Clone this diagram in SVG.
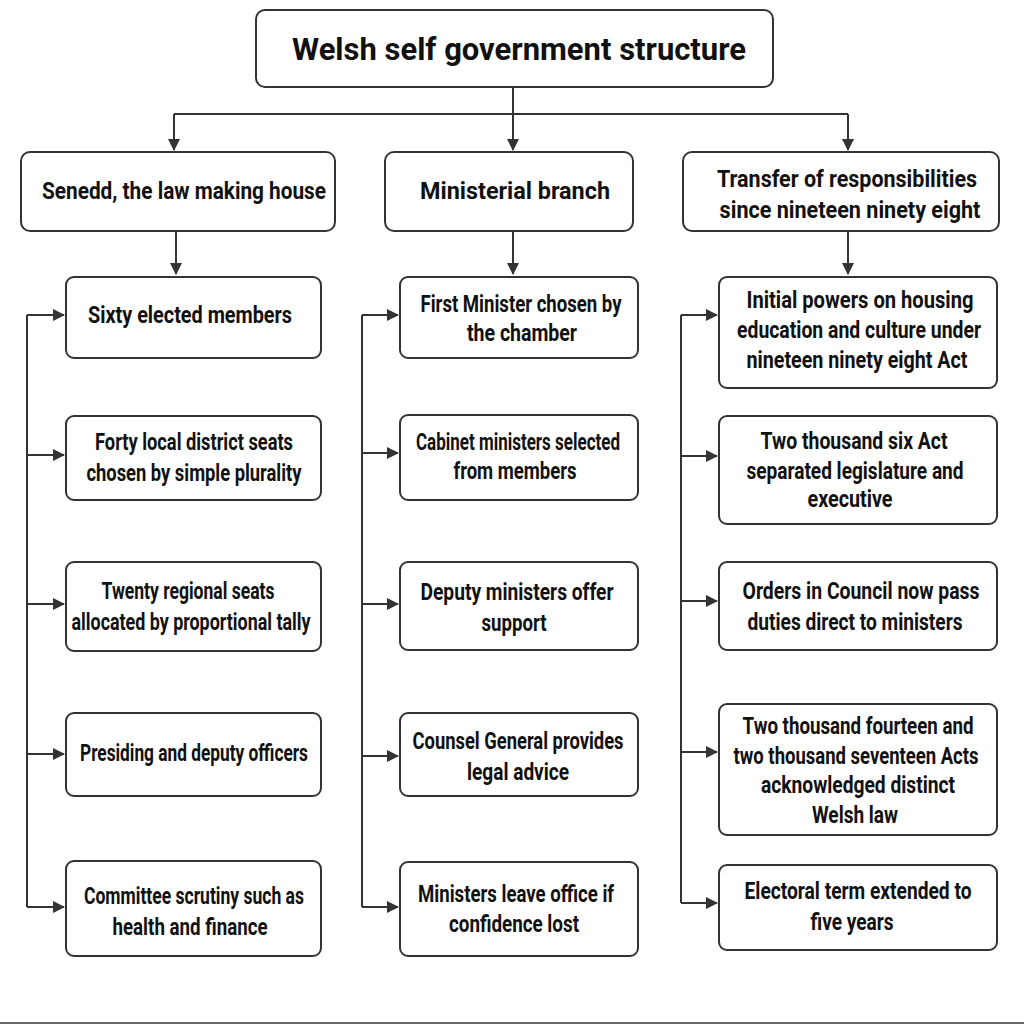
<svg xmlns="http://www.w3.org/2000/svg" width="1024" height="1024" viewBox="0 0 1024 1024">
<defs>
<marker id="ah" viewBox="0 0 12 12" refX="11" refY="6" markerWidth="12" markerHeight="12" markerUnits="userSpaceOnUse" orient="auto">
<path d="M0,0 L12,6 L0,12 Z" fill="#333"/>
</marker>
<style>
.box{fill:#fff;stroke:#333;stroke-width:2}
.t{font-family:Roboto,"Liberation Sans",sans-serif;font-weight:bold;font-size:24px;fill:#111;text-anchor:middle}
.title{font-family:Roboto,"Liberation Sans",sans-serif;font-weight:bold;font-size:31px;fill:#111;text-anchor:middle}
.c{fill:none;stroke:#333;stroke-width:2}
</style>
</defs>
<rect width="1024" height="1024" fill="#fff"/>
<g id="connectors">
<path class="c" d="M513,87 V114"/>
<path class="c" d="M174,114 H848"/>
<path class="c" d="M174,114 V150" marker-end="url(#ah)"/>
<path class="c" d="M513,114 V150" marker-end="url(#ah)"/>
<path class="c" d="M848,114 V150" marker-end="url(#ah)"/>
<path class="c" d="M176,231 V274" marker-end="url(#ah)"/>
<path class="c" d="M513,231 V274" marker-end="url(#ah)"/>
<path class="c" d="M848,231 V274" marker-end="url(#ah)"/>
<path class="c" d="M27,315 V907"/>
<path class="c" d="M27,315 H64" marker-end="url(#ah)"/>
<path class="c" d="M27,455 H64" marker-end="url(#ah)"/>
<path class="c" d="M27,604 H64" marker-end="url(#ah)"/>
<path class="c" d="M27,754 H64" marker-end="url(#ah)"/>
<path class="c" d="M27,907 H64" marker-end="url(#ah)"/>
<path class="c" d="M362,315 V907"/>
<path class="c" d="M362,315 H398" marker-end="url(#ah)"/>
<path class="c" d="M362,453 H398" marker-end="url(#ah)"/>
<path class="c" d="M362,604 H398" marker-end="url(#ah)"/>
<path class="c" d="M362,756 H398" marker-end="url(#ah)"/>
<path class="c" d="M362,907 H398" marker-end="url(#ah)"/>
<path class="c" d="M681,315 V903"/>
<path class="c" d="M681,315 H717" marker-end="url(#ah)"/>
<path class="c" d="M681,456 H717" marker-end="url(#ah)"/>
<path class="c" d="M681,601 H717" marker-end="url(#ah)"/>
<path class="c" d="M681,752 H717" marker-end="url(#ah)"/>
<path class="c" d="M681,903 H717" marker-end="url(#ah)"/>
</g>
<g id="title"><rect class="box" x="256" y="10" width="517" height="77" rx="9"/><text class="title" x="519" y="60" textLength="454" lengthAdjust="spacingAndGlyphs">Welsh self government structure</text></g>
<g id="senedd"><rect class="box" x="21" y="152" width="314" height="79" rx="9"/><text class="t" transform="translate(184,199) scale(0.8,1)" textLength="355" lengthAdjust="spacingAndGlyphs">Senedd, the law making house</text></g>
<g id="ministerial"><rect class="box" x="385" y="152" width="248" height="79" rx="9"/><text class="t" transform="translate(515,199) scale(0.8,1)" textLength="237.5" lengthAdjust="spacingAndGlyphs">Ministerial branch</text></g>
<g id="transfer"><rect class="box" x="683" y="152" width="316" height="79" rx="9"/><text class="t" transform="translate(847,187) scale(0.8,1)" textLength="325" lengthAdjust="spacingAndGlyphs">Transfer of responsibilities</text><text class="t" transform="translate(850,218) scale(0.8,1)" textLength="326" lengthAdjust="spacingAndGlyphs">since nineteen ninety eight</text></g>

<g id="l1"><rect class="box" x="66" y="277" width="255" height="81" rx="8"/><text class="t" transform="translate(190,323) scale(0.8,1)" textLength="255" lengthAdjust="spacingAndGlyphs">Sixty elected members</text></g>
<g id="l2"><rect class="box" x="66" y="416" width="255" height="84" rx="8"/><text class="t" transform="translate(194,450) scale(0.8,1)" textLength="247.5" lengthAdjust="spacingAndGlyphs">Forty local district seats</text><text class="t" transform="translate(194,481) scale(0.8,1)" textLength="268.75" lengthAdjust="spacingAndGlyphs">chosen by simple plurality</text></g>
<g id="l3"><rect class="box" x="66" y="562" width="255" height="89" rx="8"/><text class="t" transform="translate(188,599) scale(0.8,1)" textLength="216.25" lengthAdjust="spacingAndGlyphs">Twenty regional seats</text><text class="t" transform="translate(191,630) scale(0.8,1)" textLength="298.75" lengthAdjust="spacingAndGlyphs">allocated by proportional tally</text></g>
<g id="l4"><rect class="box" x="66" y="713" width="255" height="83" rx="8"/><text class="t" transform="translate(194,761) scale(0.8,1)" textLength="285" lengthAdjust="spacingAndGlyphs">Presiding and deputy officers</text></g>
<g id="l5"><rect class="box" x="66" y="861" width="255" height="95" rx="8"/><text class="t" transform="translate(194,904) scale(0.8,1)" textLength="275" lengthAdjust="spacingAndGlyphs">Committee scrutiny such as</text><text class="t" transform="translate(190,935) scale(0.8,1)" textLength="193.75" lengthAdjust="spacingAndGlyphs">health and finance</text></g>

<g id="m1"><rect class="box" x="400" y="277" width="238" height="81" rx="8"/><text class="t" transform="translate(521,312) scale(0.8,1)" textLength="251.25" lengthAdjust="spacingAndGlyphs">First Minister chosen by</text><text class="t" transform="translate(522,341) scale(0.8,1)" textLength="137.5" lengthAdjust="spacingAndGlyphs">the chamber</text></g>
<g id="m2"><rect class="box" x="400" y="415" width="238" height="85" rx="8"/><text class="t" transform="translate(518,450) scale(0.8,1)" textLength="255" lengthAdjust="spacingAndGlyphs">Cabinet ministers selected</text><text class="t" transform="translate(515,479) scale(0.8,1)" textLength="153.75" lengthAdjust="spacingAndGlyphs">from members</text></g>
<g id="m3"><rect class="box" x="400" y="562" width="238" height="88" rx="8"/><text class="t" transform="translate(517,600) scale(0.8,1)" textLength="241.25" lengthAdjust="spacingAndGlyphs">Deputy ministers offer</text><text class="t" transform="translate(514,631) scale(0.8,1)" textLength="81.25" lengthAdjust="spacingAndGlyphs">support</text></g>
<g id="m4"><rect class="box" x="400" y="713" width="238" height="83" rx="8"/><text class="t" transform="translate(518,749) scale(0.8,1)" textLength="263.75" lengthAdjust="spacingAndGlyphs">Counsel General provides</text><text class="t" transform="translate(518,780) scale(0.8,1)" textLength="127.5" lengthAdjust="spacingAndGlyphs">legal advice</text></g>
<g id="m5"><rect class="box" x="400" y="862" width="238" height="94" rx="8"/><text class="t" transform="translate(516,902) scale(0.8,1)" textLength="245" lengthAdjust="spacingAndGlyphs">Ministers leave office if</text><text class="t" transform="translate(514,932) scale(0.8,1)" textLength="162.5" lengthAdjust="spacingAndGlyphs">confidence lost</text></g>

<g id="r1"><rect class="box" x="719" y="277" width="278" height="111" rx="8"/><text class="t" transform="translate(860,308) scale(0.8,1)" textLength="283.75" lengthAdjust="spacingAndGlyphs">Initial powers on housing</text><text class="t" transform="translate(859,338) scale(0.8,1)" textLength="305" lengthAdjust="spacingAndGlyphs">education and culture under</text><text class="t" transform="translate(857,368) scale(0.8,1)" textLength="276.25" lengthAdjust="spacingAndGlyphs">nineteen ninety eight Act</text></g>
<g id="r2"><rect class="box" x="719" y="416" width="278" height="108" rx="8"/><text class="t" transform="translate(854,449) scale(0.8,1)" textLength="233.75" lengthAdjust="spacingAndGlyphs">Two thousand six Act</text><text class="t" transform="translate(855,479) scale(0.8,1)" textLength="271.25" lengthAdjust="spacingAndGlyphs">separated legislature and</text><text class="t" transform="translate(850,507) scale(0.8,1)" textLength="106.25" lengthAdjust="spacingAndGlyphs">executive</text></g>
<g id="r3"><rect class="box" x="719" y="562" width="278" height="88" rx="8"/><text class="t" transform="translate(861,599) scale(0.8,1)" textLength="296.25" lengthAdjust="spacingAndGlyphs">Orders in Council now pass</text><text class="t" transform="translate(855,630) scale(0.8,1)" textLength="268.75" lengthAdjust="spacingAndGlyphs">duties direct to ministers</text></g>
<g id="r4"><rect class="box" x="719" y="704" width="278" height="131" rx="8"/><text class="t" transform="translate(858,734) scale(0.8,1)" textLength="288.75" lengthAdjust="spacingAndGlyphs">Two thousand fourteen and</text><text class="t" transform="translate(856,764) scale(0.8,1)" textLength="306.25" lengthAdjust="spacingAndGlyphs">two thousand seventeen Acts</text><text class="t" transform="translate(858,793) scale(0.8,1)" textLength="242.5" lengthAdjust="spacingAndGlyphs">acknowledged distinct</text><text class="t" transform="translate(855,823) scale(0.8,1)" textLength="107.5" lengthAdjust="spacingAndGlyphs">Welsh law</text></g>
<g id="r5"><rect class="box" x="719" y="865" width="278" height="85" rx="8"/><text class="t" transform="translate(858,899) scale(0.8,1)" textLength="283.75" lengthAdjust="spacingAndGlyphs">Electoral term extended to</text><text class="t" transform="translate(852,930) scale(0.8,1)" textLength="103.75" lengthAdjust="spacingAndGlyphs">five years</text></g>
<line x1="0" y1="1023" x2="1024" y2="1023" stroke="#666" stroke-width="2"/>
</svg>
